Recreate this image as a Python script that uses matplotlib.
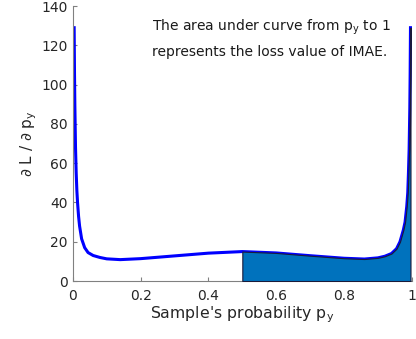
import numpy as np
import matplotlib.pyplot as plt

# dL/dp of IMAE sampled along p_y
p = [0.004, 0.005, 0.006, 0.008, 0.010, 0.012, 0.014, 0.017, 0.020, 0.026,
     0.035, 0.045, 0.060, 0.080, 0.100, 0.140, 0.200, 0.300, 0.400, 0.500,
     0.600, 0.700, 0.800, 0.860, 0.900, 0.920, 0.940, 0.955, 0.965, 0.975,
     0.980, 0.985, 0.988, 0.990, 0.992, 0.994, 0.995, 0.996]
grad = [129, 106, 90, 68, 55, 46, 40, 33, 28, 21.5,
        17, 14.5, 13, 12, 11.3, 10.9, 11.4, 12.8, 14.2, 15.0,
        14.3, 12.9, 11.6, 11.2, 11.8, 12.6, 14.0, 16.5, 20, 26,
        30, 38, 45, 55, 67, 88, 105, 129]

p = np.array(p)
grad = np.array(grad)
mask = p >= 0.5

fig = plt.figure(figsize=(4.16, 3.39), dpi=100)
ax = fig.add_axes([0.175, 0.171, 0.815, 0.811])

ax.plot(p, grad, color='blue', lw=2.2, zorder=2)
ax.fill_between(p[mask], 0, grad[mask], facecolor='#0072BD',
                edgecolor='#1a1a3a', lw=0.8, zorder=3)

ax.set_xlim(0, 1)
ax.set_ylim(0, 140)
ax.set_xticks([0, 0.2, 0.4, 0.6, 0.8, 1])
ax.set_xticklabels(['0', '0.2', '0.4', '0.6', '0.8', '1'])
ax.set_yticks(range(0, 141, 20))

for s in ['top', 'right']:
    ax.spines[s].set_visible(False)
for s in ['left', 'bottom']:
    ax.spines[s].set_color('#808080')
ax.tick_params(direction='in', length=3, colors='#808080',
               labelcolor='#262626', labelsize=10)
ax.tick_params(axis='x', pad=6)

ax.set_xlabel("Sample's probability p$_\\mathregular{y}$", fontsize=11.3,
              color='#262626', labelpad=1)
ax.set_ylabel("$\\partial$ L / $\\partial$ p$_\\mathregular{y}$", fontsize=11,
              color='#262626', labelpad=2)

ax.text(0.233, 129, "The area under curve from p$_\\mathregular{y}$ to 1",
        fontsize=10, color='#1a1a1a', va='center')
ax.text(0.233, 116.5, "represents the loss value of IMAE.",
        fontsize=10, color='#1a1a1a', va='center')

fig.savefig('out.png', dpi=100)
